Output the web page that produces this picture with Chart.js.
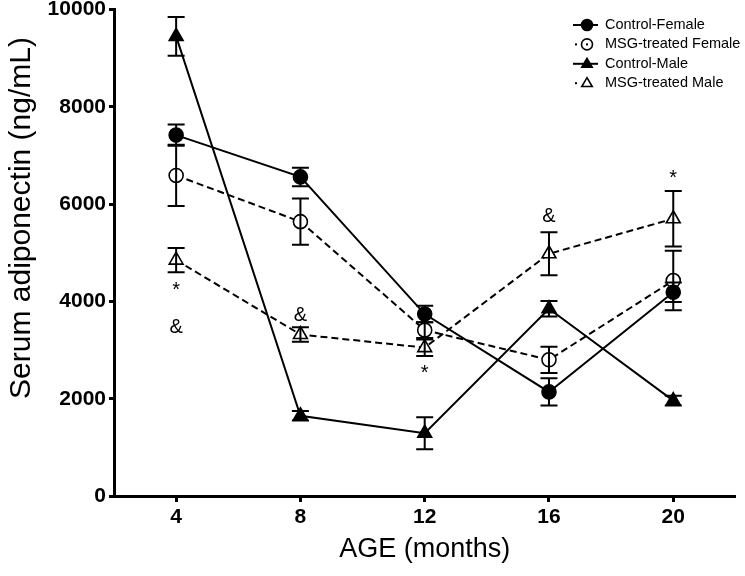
<!DOCTYPE html>
<html>
<head>
<meta charset="utf-8">
<script src="https://cdn.jsdelivr.net/npm/chart.js@4.4.0/dist/chart.umd.min.js"></script>
<style>
  body { margin: 0; background: #fff; }
  #wrap { width: 745px; height: 576px; }
</style>
</head>
<body>
<div id="wrap"><canvas id="chart" width="745" height="576"></canvas></div>
<script>
const ages = [4, 8, 12, 16, 20];
const yTicks = [0, 2000, 4000, 6000, 8000, 10000];

const ctrlFemale = [7420, 6560, 3740, 2140, 4190];
const ctrlFemaleErr = [220, 190, 170, 280, 200];
const msgFemale = [6590, 5640, 3410, 2800, 4430];
const msgFemaleErr = [630, 475, 160, 270, 610];
const ctrlMale = [9450, 1650, 1290, 3850, 1960];
const ctrlMaleErr = [400, 100, 330, 160, 100];
const msgMale = [4850, 3320, 3050, 4980, 5700];
const msgMaleErr = [250, 150, 170, 440, 570];

// significance marks above/below the points
const markAge = [4, 4, 8, 12, 16, 20];
const markValue = [4230, 3470, 3720, 2520, 5750, 6520];
const markText = ["*", "&", "&", "*", "&", "*"];

const yTitle = "Serum adiponectin (ng/mL)";
const FONT = "'Liberation Sans', Arial, sans-serif";

function series(label, vals, errs, style, filled, dashed) {
  return {
    label: label,
    data: ages.map((a, i) => ({ x: a, y: vals[i] })),
    err: errs,
    borderColor: "#000",
    borderWidth: 2,
    borderDash: dashed ? [7, 4] : [],
    pointStyle: style,
    pointRadius: style === "triangle" ? 8 : 7,
    pointBorderWidth: 1.6,
    pointBackgroundColor: filled ? "#000" : "#fff",
    pointBorderColor: "#000",
    fill: false,
    tension: 0,
    dashed: dashed,
    filled: filled
  };
}

const errorBars = {
  id: "errorBars",
  afterDatasetsDraw(chart) {
    const ctx = chart.ctx, xs = chart.scales.x, ys = chart.scales.y;
    ctx.save();
    ctx.strokeStyle = "#000";
    ctx.lineWidth = 2;
    chart.data.datasets.forEach(ds => {
      ds.data.forEach((p, i) => {
        const x = xs.getPixelForValue(p.x);
        const t = ys.getPixelForValue(p.y + ds.err[i]);
        const b = ys.getPixelForValue(p.y - ds.err[i]);
        ctx.beginPath();
        ctx.moveTo(x, t); ctx.lineTo(x, b);
        ctx.moveTo(x - 8.5, t); ctx.lineTo(x + 8.5, t);
        ctx.moveTo(x - 8.5, b); ctx.lineTo(x + 8.5, b);
        ctx.stroke();
      });
    });
    ctx.fillStyle = "#000";
    ctx.font = "20px " + FONT;
    ctx.textAlign = "center";
    ctx.textBaseline = "middle";
    markText.forEach((s, i) => {
      ctx.fillText(s, xs.getPixelForValue(markAge[i]), ys.getPixelForValue(markValue[i]));
    });

    // y axis title, sits a little above the axis middle
    ctx.save();
    ctx.translate(22, 218);
    ctx.rotate(-Math.PI / 2);
    ctx.font = "30px " + FONT;
    ctx.fillText(yTitle, 0, 0);
    ctx.restore();
    ctx.restore();
  }
};

function drawMarker(ctx, style, filled, x, y, r) {
  ctx.beginPath();
  if (style === "circle") {
    ctx.arc(x, y, r, 0, Math.PI * 2);
  } else {
    ctx.moveTo(x, y - r);
    ctx.lineTo(x + r * 0.95, y + r * 0.6);
    ctx.lineTo(x - r * 0.95, y + r * 0.6);
    ctx.closePath();
  }
  ctx.fillStyle = filled ? "#000" : "#fff";
  ctx.fill();
  ctx.lineWidth = 1.6;
  ctx.strokeStyle = "#000";
  ctx.stroke();
}

const boxLegend = {
  id: "boxLegend",
  afterDraw(chart) {
    const ctx = chart.ctx;
    ctx.save();
    ctx.font = "14.5px " + FONT;
    ctx.textBaseline = "middle";
    ctx.textAlign = "left";
    chart.data.datasets.forEach((ds, i) => {
      const y = 25 + i * 19.4, mx = 587;
      ctx.strokeStyle = "#000";
      ctx.fillStyle = "#000";
      if (ds.dashed) {
        ctx.fillRect(575, y - 1, 2, 2);
      } else {
        ctx.lineWidth = 2;
        ctx.beginPath();
        ctx.moveTo(573, y); ctx.lineTo(598, y);
        ctx.stroke();
      }
      drawMarker(ctx, ds.pointStyle, ds.filled, mx, y, 5.5);
      if (!ds.filled && ds.pointStyle === "circle") {
        ctx.fillStyle = "#000";
        ctx.fillRect(mx - 1, y - 1, 2, 2);
      }
      ctx.fillStyle = "#000";
      ctx.fillText(ds.label, 605, y);
    });
    ctx.restore();
  }
};

new Chart(document.getElementById("chart"), {
  type: "line",
  data: {
    datasets: [
      series("Control-Female", ctrlFemale, ctrlFemaleErr, "circle", true, false),
      series("MSG-treated Female", msgFemale, msgFemaleErr, "circle", false, true),
      series("Control-Male", ctrlMale, ctrlMaleErr, "triangle", true, false),
      series("MSG-treated Male", msgMale, msgMaleErr, "triangle", false, true)
    ]
  },
  options: {
    responsive: false,
    animation: false,
    layout: { padding: { top: 4, right: 3, left: 0, bottom: 0 } },
    plugins: { legend: { display: false }, tooltip: { enabled: false } },
    scales: {
      x: {
        type: "linear",
        min: 2,
        max: 22,
        afterBuildTicks: s => { s.ticks = ages.map(v => ({ value: v })); },
        afterFit: s => { s.height = 80; s.paddingLeft = 0; s.paddingRight = 0; },
        border: { color: "#000", width: 3 },
        grid: { drawOnChartArea: false, drawTicks: true, tickLength: 6, tickWidth: 3, tickColor: "#000" },
        ticks: { color: "#000", padding: 3, callback: v => String(v), font: { family: FONT, size: 21, weight: "bold" } },
        title: { display: true, text: "AGE (months)", color: "#000", padding: { top: 2, bottom: 10 }, font: { family: FONT, size: 27 } }
      },
      y: {
        min: 0,
        max: 10000,
        afterBuildTicks: s => { s.ticks = yTicks.map(v => ({ value: v })); },
        afterFit: s => { s.width = 114; s.paddingTop = 0; s.paddingBottom = 0; },
        border: { color: "#000", width: 3 },
        grid: { drawOnChartArea: false, drawTicks: true, tickLength: 5, tickWidth: 3, tickColor: "#000" },
        ticks: { color: "#000", padding: 3, callback: v => String(v), font: { family: FONT, size: 21, weight: "bold" } }
      }
    }
  },
  plugins: [errorBars, boxLegend]
});
</script>
</body>
</html>
